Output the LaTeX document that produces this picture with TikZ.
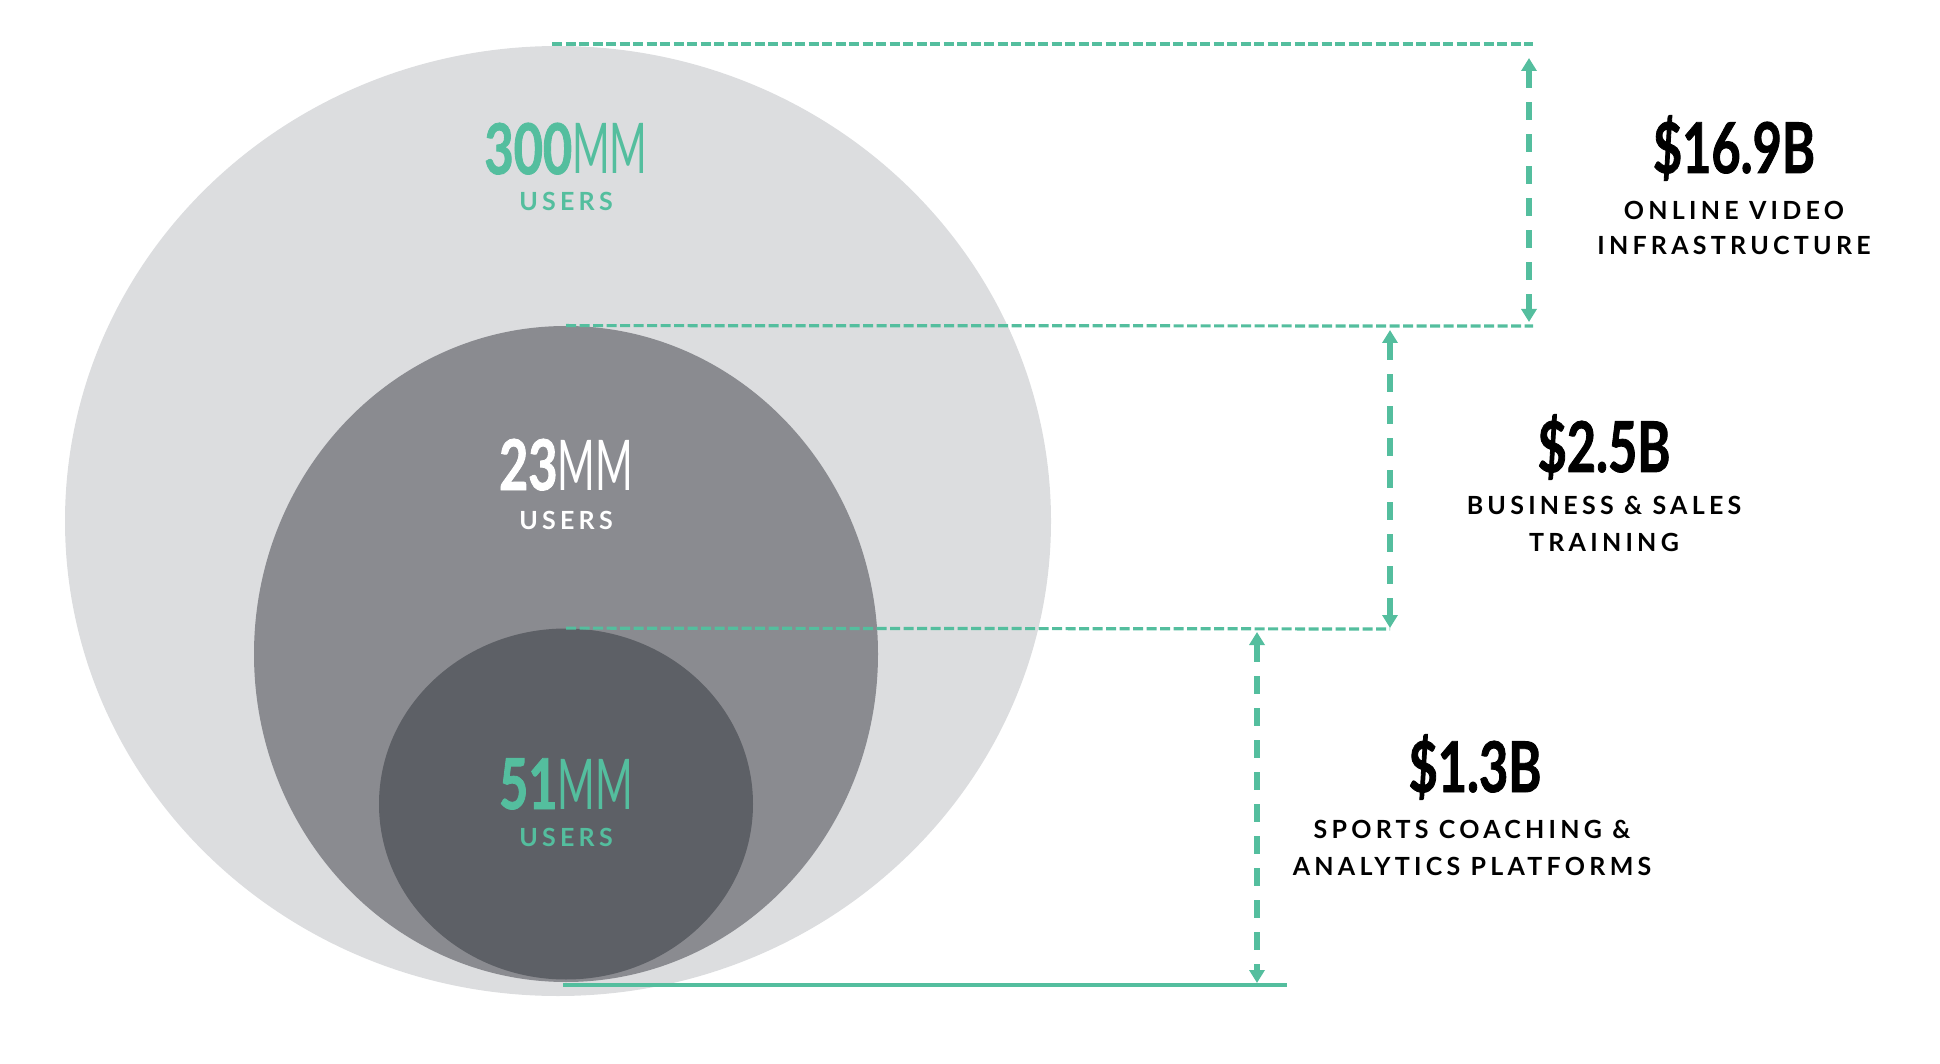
\documentclass[tikz,border=0pt]{standalone}
\usepackage{fontspec}
\setmainfont{Lato}
\usepackage{tikz}
\usetikzlibrary{arrows.meta,positioning,shapes.geometric}
\usepackage{xcolor}
\definecolor{mint}{RGB}{84,190,158}
\definecolor{discA}{RGB}{220,221,223}
\definecolor{discB}{RGB}{138,139,144}
\definecolor{discC}{RGB}{93,96,102}
\newfontfamily\numfont{Lato}[FakeStretch=0.72, BoldFeatures={FakeBold=1.2}]
\newfontfamily\unitfont{Lato}[FakeStretch=0.58]
\newfontfamily\capfont{Lato}[LetterSpace=17]
\newcommand{\users}[1]{{\numfont\bfseries #1}{\unitfont MM}}
\newcommand{\money}[1]{{\numfont\bfseries #1}}

\begin{document}
\begin{tikzpicture}[
      x=0.5pt, y=-0.5pt,
      disc/.style={ellipse, inner sep=0pt, draw=none},
      big/.style={font=\fontsize{35}{35}\selectfont, anchor=base, inner sep=0pt},
      caps/.style={font=\capfont\bfseries\fontsize{12.5}{12.5}\selectfont,
                   anchor=base, inner sep=0pt},
      guide/.style={mint, line width=1.6pt, dash pattern=on 5pt off 1.75pt},
      span/.style={mint, line width=2.8pt, dash pattern=on 9pt off 7pt,
                   {Triangle[width=7.5pt,length=6.5pt]}-{Triangle[width=7.5pt,length=6.5pt]}}
    ]
    \useasboundingbox (0,0) rectangle (1940,1064);

    % nested user circles
    \node[disc, fill=discA, minimum width=493pt, minimum height=475pt] (outer) at (558,521) {};
    \node[disc, fill=discB, minimum width=312pt, minimum height=328pt] (middle) at (566,654) {};
    \node[disc, fill=discC, minimum width=187pt, minimum height=175.5pt] (inner) at (566,804) {};

    \node[big, text=mint]  (n300) at (566,174) {\users{300}};
    \node[caps, text=mint] (u300) at (566,211) {USERS};
    \node[big, text=white] (n23)  at (566,490) {\users{23}};
    \node[caps, text=white] (u23) at (566,529) {USERS};
    \node[big, text=mint]  (n51)  at (566,809) {\users{51}};
    \node[caps, text=mint] (u51)  at (566,846) {USERS};

    % guide lines
    \coordinate (g1a) at (552,44);  \coordinate (g1b) at (1533,44);
    \coordinate (g2b) at (1533,326);
    \coordinate (g3b) at (1390,629);
    \coordinate (g4a) at (563,985); \coordinate (g4b) at (1287,985);
    \draw[guide] (g1a) -- (g1b);
    \draw[guide] (middle.north) -- (g2b);
    \draw[guide] (inner.north) -- (g3b);
    \draw[mint, line width=1.6pt] (g4a) -- (g4b);

    % market spans
    \coordinate (s1a) at (1529,58);  \coordinate (s1b) at (1529,322);
    \coordinate (s2a) at (1390,330); \coordinate (s2b) at (1390,628);
    \coordinate (s3a) at (1257,632); \coordinate (s3b) at (1257,983);
    \draw[span] (s1a) -- (s1b);
    \draw[span] (s2a) -- (s2b);
    \draw[span] (s3a) -- (s3b);

    \node[big]  (m1)  at (1734,173) {\money{\$16.9B}};
    \node[caps] (m1a) at (1734,220) {ONLINE VIDEO};
    \node[caps] (m1b) at (1734,255) {INFRASTRUCTURE};
    \node[big]  (m2)  at (1604,472) {\money{\$2.5B}};
    \node[caps] (m2a) at (1604,515) {BUSINESS \& SALES};
    \node[caps] (m2b) at (1604,551) {TRAINING};
    \node[big]  (m3)  at (1475,792) {\money{\$1.3B}};
    \node[caps] (m3a) at (1472,838) {SPORTS COACHING \&};
    \node[caps] (m3b) at (1472,875) {ANALYTICS PLATFORMS};
  \end{tikzpicture}
\end{document}
